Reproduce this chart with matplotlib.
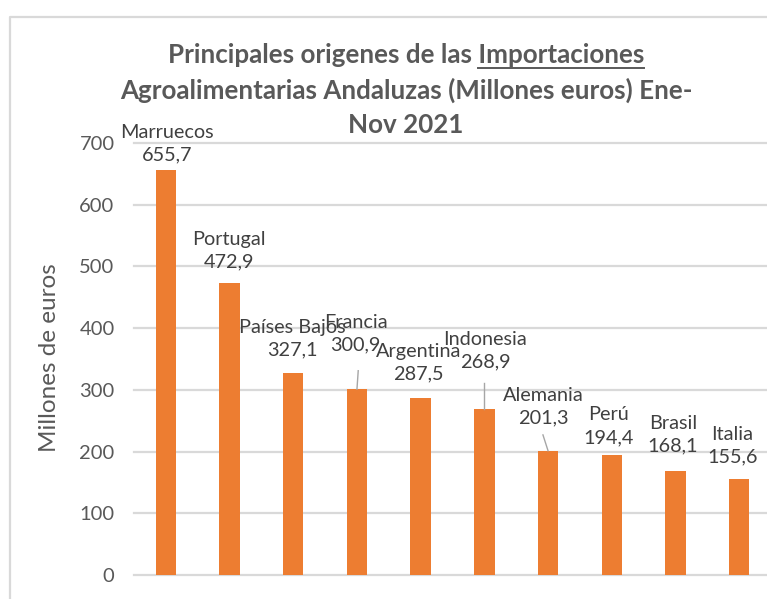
import matplotlib
matplotlib.use("Agg")
import matplotlib.pyplot as plt
import numpy as np
from matplotlib.lines import Line2D

plt.rcParams['font.family'] = ['Lato', 'DejaVu Sans']

# Data
countries = ['Marruecos', 'Portugal', 'Países Bajos', 'Francia', 'Argentina',
             'Indonesia', 'Alemania', 'Perú', 'Brasil', 'Italia']
values = [655.7, 472.9, 327.1, 300.9, 287.5, 268.9, 201.3, 194.4, 168.1, 155.6]
yticks = [0, 100, 200, 300, 400, 500, 600, 700]

# Label placement (category index, y in data units), as laid out in the original
label_x = [0.02, 0.99, 1.99, 2.98, 3.97, 5.01, 5.92, 6.95, 7.96, 8.89]
label_y = [699, 526, 383, 391, 344, 364, 273, 241, 227, 210]
# leader lines: index -> (x shift at label end, y at label end)
leaders = {3: (0.02, 331), 5: (0.0, 311), 6: (-0.08, 227)}

bar_color = '#ED7D31'
grid_color = '#D9D9D9'
text_color = '#595959'
label_color = '#404040'

fig = plt.figure(figsize=(7.67, 5.99), dpi=100)
ax = fig.add_axes([134 / 767, 24 / 599, 637 / 767, 432 / 599])

x = np.arange(len(countries))
ax.bar(x, values, width=0.32, color=bar_color, zorder=2)

ax.set_xlim(-0.5, len(countries) - 0.5)
ax.set_ylim(0, 700)
ax.set_yticks(yticks)
ax.set_xticks([])
ax.tick_params(axis='y', length=0, pad=14, labelsize=14.5, labelcolor=text_color)
ax.grid(axis='y', color=grid_color, linewidth=1.6)
for gl in ax.get_ygridlines():
    gl.set_clip_on(False)
ax.set_axisbelow(True)
for s in ax.spines.values():
    s.set_visible(False)

ax.set_ylabel('Millones de euros', fontsize=17.5, color=text_color)
ax.yaxis.set_label_coords(-0.116, 0.503)

# data labels
for i, (c, v) in enumerate(zip(countries, values)):
    txt = c + '\n' + f'{v:.1f}'.replace('.', ',')
    ax.text(label_x[i], label_y[i], txt, ha='center', va='center',
            fontsize=14.3, color=label_color, linespacing=1.4, zorder=3)

for i, (dx, yend) in leaders.items():
    ax.plot([i, i + dx], [values[i], yend], color='#A6A6A6', lw=1, zorder=3)

# title
title_lines = ['Principales origenes de las Importaciones',
               'Agroalimentarias Andaluzas (Millones euros) Ene-',
               'Nov 2021']
title_y = [55, 90, 125]
tsize = 18.7
tts = []
for line, yy in zip(title_lines, title_y):
    t = fig.text(406 / 767, 1 - yy / 599, line, ha='center', va='center',
                 fontsize=tsize, fontweight='bold', color=text_color)
    tts.append(t)

# underline "Importaciones"
fig.canvas.draw()
r = fig.canvas.get_renderer()
bb = tts[0].get_window_extent(r)
tmp = fig.text(0, 0, 'Importaciones', fontsize=tsize, fontweight='bold')
wb = tmp.get_window_extent(r)
tmp.remove()
uy = bb.y0 - 1
fig.add_artist(Line2D([(bb.x1 - wb.width) / 767, bb.x1 / 767], [uy / 599, uy / 599],
                      color=text_color, lw=1.4))

# chart area border (left and top edges visible)
fig.add_artist(Line2D([10 / 767, 10 / 767, 1.01], [-0.01, 1 - 17 / 599, 1 - 17 / 599],
                      color=grid_color, lw=1.6))

fig.savefig('out.png', dpi=100, facecolor='white')
